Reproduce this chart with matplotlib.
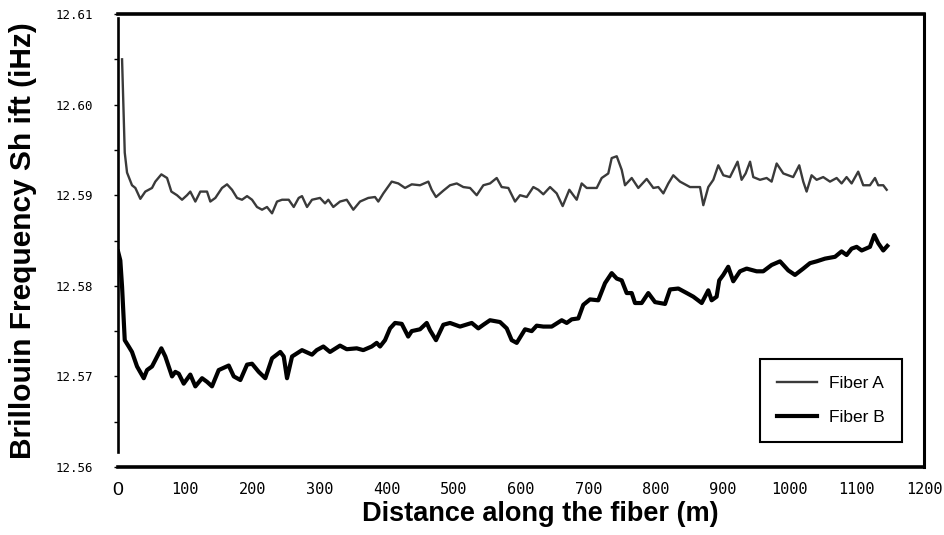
import matplotlib
matplotlib.use("Agg")
import matplotlib.pyplot as plt

# distance (m) and Brillouin shift (GHz)
fiber_a_x = [6.0, 10.0, 13.4, 20.8, 25.8, 33.2, 40.6, 50.6, 55.5, 64.5, 73.0, 79.4,
             87.8, 95.3, 102.7, 107.6, 115.1, 122.5, 132.5, 137.4, 144.9, 154.8, 162.3,
             169.7, 177.2, 184.6, 192.1, 199.5, 206.9, 214.4, 221.8, 229.3, 236.7, 244.2,
             254.1, 261.6, 269.0, 273.9, 281.4, 288.8, 300.7, 308.2, 313.1, 320.5, 330.5,
             340.5, 350.3, 360.3, 372.6, 382.6, 387.5, 395.0, 407.5, 417.3, 427.3, 437.3,
             449.6, 462.0, 467.0, 473.4, 484.3, 494.3, 504.3, 514.1, 524.1, 534.0, 543.9,
             553.8, 563.8, 571.2, 581.1, 591.1, 598.5, 608.5, 618.3, 625.7, 633.2, 643.2,
             653.1, 662.0, 671.9, 682.9, 690.3, 697.8, 712.7, 720.1, 729.9, 735.0, 742.5,
             749.9, 754.8, 764.8, 774.6, 787.1, 797.0, 804.4, 811.9, 819.3, 826.7, 836.7,
             851.6, 866.5, 871.4, 878.8, 886.3, 893.7, 901.2, 911.1, 922.4, 928.4, 934.4,
             941.0, 945.8, 955.8, 965.7, 973.1, 980.6, 990.5, 1005.2, 1014.2, 1020.2,
             1025.2, 1032.6, 1040.1, 1049.9, 1060.0, 1069.9, 1077.3, 1084.7, 1092.2,
             1102.0, 1109.5, 1119.5, 1127.0, 1131.8, 1139.3, 1144.4]
fiber_a_y = [12.6050, 12.5947, 12.5925, 12.5911, 12.5908, 12.5896, 12.5904, 12.5908,
             12.5915, 12.5923, 12.5919, 12.5904, 12.5900, 12.5895, 12.5900, 12.5904,
             12.5893, 12.5904, 12.5904, 12.5893, 12.5897, 12.5908, 12.5912, 12.5906,
             12.5897, 12.5895, 12.5899, 12.5895, 12.5887, 12.5884, 12.5887, 12.5880,
             12.5893, 12.5895, 12.5895, 12.5887, 12.5897, 12.5899, 12.5887, 12.5895,
             12.5897, 12.5891, 12.5895, 12.5887, 12.5893, 12.5895, 12.5884, 12.5893,
             12.5897, 12.5898, 12.5893, 12.5902, 12.5915, 12.5913, 12.5908, 12.5912,
             12.5911, 12.5915, 12.5906, 12.5898, 12.5905, 12.5911, 12.5913, 12.5909,
             12.5908, 12.5900, 12.5911, 12.5913, 12.5919, 12.5909, 12.5908, 12.5893,
             12.5900, 12.5898, 12.5909, 12.5906, 12.5901, 12.5909, 12.5902, 12.5888,
             12.5906, 12.5895, 12.5913, 12.5908, 12.5908, 12.5919, 12.5924, 12.5941,
             12.5943, 12.5928, 12.5911, 12.5919, 12.5908, 12.5918, 12.5908, 12.5909,
             12.5902, 12.5913, 12.5922, 12.5915, 12.5909, 12.5909, 12.5889, 12.5909,
             12.5917, 12.5933, 12.5922, 12.5920, 12.5937, 12.5917, 12.5924, 12.5937,
             12.5920, 12.5917, 12.5919, 12.5915, 12.5935, 12.5924, 12.5920, 12.5933,
             12.5915, 12.5904, 12.5922, 12.5917, 12.5920, 12.5915, 12.5919, 12.5913,
             12.5920, 12.5913, 12.5926, 12.5911, 12.5911, 12.5919, 12.5911, 12.5911,
             12.5906]

fiber_b_x = [0.0, 3.4, 6.0, 8.5, 10.0, 15.9, 20.8, 28.3, 38.3, 43.2, 50.6, 55.5, 64.5,
             70.4, 80.4, 85.3, 90.4, 97.8, 107.6, 115.1, 125.1, 132.5, 139.9, 149.9,
             164.8, 172.3, 182.1, 192.1, 199.5, 209.5, 219.3, 229.3, 241.6, 246.7, 251.6,
             259.1, 273.9, 288.8, 295.8, 305.7, 315.6, 330.5, 340.5, 355.4, 365.1, 377.7,
             385.1, 390.1, 397.5, 405.0, 412.4, 422.4, 432.0, 437.3, 449.6, 459.6, 464.5,
             473.4, 484.3, 494.3, 509.2, 526.6, 536.4, 543.9, 553.8, 568.7, 578.7, 586.1,
             593.6, 606.0, 615.9, 623.3, 633.2, 645.7, 660.6, 668.0, 675.5, 685.3, 692.7,
             702.7, 715.0, 725.1, 735.0, 742.5, 749.9, 757.3, 764.8, 769.7, 779.6, 789.5,
             799.5, 814.4, 821.8, 834.2, 846.7, 856.5, 869.0, 878.8, 883.8, 891.2, 895.1,
             901.1, 908.5, 916.0, 926.0, 935.9, 950.8, 960.6, 973.1, 985.6, 997.9, 1007.9,
             1020.2, 1030.2, 1040.1, 1052.6, 1067.5, 1077.3, 1084.7, 1092.2, 1099.7,
             1107.2, 1119.5, 1125.9, 1131.9, 1139.3, 1145.3]
fiber_b_y = [12.5838, 12.5828, 12.5799, 12.5762, 12.5740, 12.5733, 12.5727, 12.5711,
             12.5698, 12.5707, 12.5711, 12.5718, 12.5731, 12.5722, 12.5700, 12.5705,
             12.5703, 12.5692, 12.5702, 12.5689, 12.5698, 12.5694, 12.5689, 12.5707,
             12.5712, 12.5700, 12.5696, 12.5713, 12.5714, 12.5705, 12.5698, 12.5720,
             12.5727, 12.5722, 12.5698, 12.5722, 12.5729, 12.5724, 12.5729, 12.5733,
             12.5727, 12.5734, 12.5730, 12.5731, 12.5729, 12.5733, 12.5737, 12.5733,
             12.5740, 12.5753, 12.5759, 12.5758, 12.5744, 12.5750, 12.5752, 12.5759,
             12.5751, 12.5740, 12.5757, 12.5759, 12.5755, 12.5759, 12.5753, 12.5757,
             12.5762, 12.5760, 12.5753, 12.5740, 12.5737, 12.5752, 12.5750, 12.5756,
             12.5755, 12.5755, 12.5762, 12.5759, 12.5763, 12.5764, 12.5779, 12.5785,
             12.5784, 12.5803, 12.5814, 12.5808, 12.5806, 12.5792, 12.5792, 12.5781,
             12.5781, 12.5792, 12.5782, 12.5780, 12.5796, 12.5797, 12.5792, 12.5788,
             12.5781, 12.5795, 12.5784, 12.5788, 12.5806, 12.5812, 12.5821, 12.5805,
             12.5816, 12.5819, 12.5816, 12.5816, 12.5823, 12.5827, 12.5817, 12.5812,
             12.5819, 12.5825, 12.5827, 12.5830, 12.5832, 12.5838, 12.5834, 12.5841,
             12.5843, 12.5839, 12.5843, 12.5856, 12.5847, 12.5839, 12.5844]

x_ticks = [0, 100, 200, 300, 400, 500, 600, 700, 800, 900, 1000, 1100, 1200]
y_ticks = [12.56, 12.57, 12.58, 12.59, 12.60, 12.61]
y_minor = [12.565, 12.575, 12.585, 12.595, 12.605]

fig = plt.figure(figsize=(9.45, 5.35), dpi=100)
ax = fig.add_axes([0.1249, 0.1271, 0.8529, 0.8467])

ax.plot(fiber_a_x, fiber_a_y, color="#3a3a3a", lw=1.7, label="Fiber A")
ax.plot(fiber_b_x, fiber_b_y, color="black", lw=3.0, label="Fiber B")

ax.set_xlim(0, 1200)
ax.set_ylim(12.56, 12.61)

ax.set_xticks(x_ticks)
ax.set_xticklabels([str(t) for t in x_ticks])
ax.set_yticks(y_ticks)
ax.set_yticklabels(["%.2f" % t for t in y_ticks])
ax.set_yticks(y_minor, minor=True)

ax.tick_params(axis="x", length=0, pad=11)
ax.tick_params(axis="y", which="both", direction="out", length=3, width=1,
               pad=15)
for lab in ax.get_xticklabels():
    lab.set_fontfamily("DejaVu Sans Mono")
    lab.set_fontsize(11)
for lab in ax.get_yticklabels():
    lab.set_fontfamily("DejaVu Sans Mono")
    lab.set_fontsize(9)
# the zero on the x axis is set in a different face in the original
zero = ax.get_xticklabels()[0]
zero.set_fontfamily("Liberation Sans")
zero.set_fontsize(14)

for side in ["top", "bottom"]:
    ax.spines[side].set_linewidth(2.6)
ax.spines["left"].set_linewidth(1.9)
ax.spines["right"].set_linewidth(2.2)
ax.spines["left"].set_bounds(12.5617, 12.6096)

ax.set_xlabel("Distance along the fiber (m)", fontfamily="Liberation Sans",
              fontweight="bold", fontsize=19.5)
ax.xaxis.set_label_coords(0.5236, -0.075, transform=ax.transAxes)
ax.xaxis.label.set_verticalalignment("top")
ax.set_ylabel("Brillouin Frequency Sh ift (iHz)", fontfamily="Liberation Sans",
              fontweight="bold", fontsize=21.5, labelpad=13)

leg = ax.legend(loc="lower right", bbox_to_anchor=(0.973, 0.055),
                prop={"family": "Liberation Sans", "size": 12.5},
                fancybox=False, edgecolor="black", framealpha=1,
                handlelength=2.3, handletextpad=0.7, borderpad=1.0,
                labelspacing=1.05, borderaxespad=0)
leg.get_frame().set_linewidth(1.5)

fig.savefig("out.png", dpi=100)
